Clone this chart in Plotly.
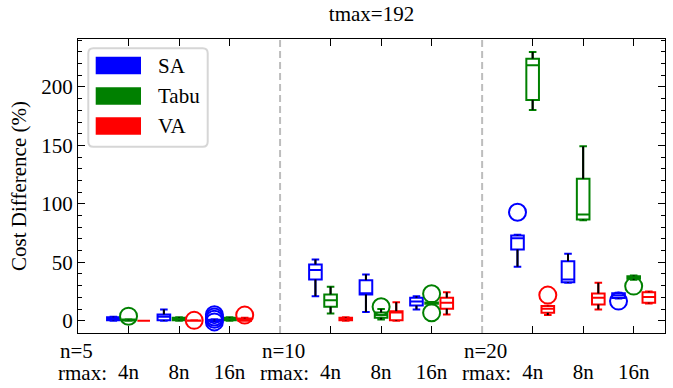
import plotly.graph_objects as go

# ---------------- data ----------------
methods = ["SA", "Tabu", "VA"]
colors = ["#0000ff", "#008000", "#ff0000"]
n_labels = ["n=5", "n=10", "n=20"]
rmax_labels = ["4n", "8n", "16n"]
title_text = "tmax=192"
y_title = "Cost Difference (%)"

# order: (n=5: 4n, 8n, 16n), (n=10: 4n, 8n, 16n), (n=20: 4n, 8n, 16n)
sa_lower = [0.0, 0.0, -0.5, 21.0, 7.4, 9.7, 46.2, 32.5, 19.0]
sa_q1 = [0.3, 0.5, 0.0, 35.3, 22.5, 13.0, 61.0, 33.0, 19.5]
sa_med = [1.5, 3.4, 0.3, 43.3, 23.5, 16.5, 70.5, 35.3, 21.5]
sa_q3 = [3.0, 5.4, 0.8, 48.1, 34.7, 19.6, 72.9, 50.9, 23.5]
sa_upper = [3.5, 9.7, 1.2, 52.4, 39.6, 21.0, 73.5, 57.3, 24.0]
sa_out = [[], [], [-1.0, 1.2, 3.2, 5.2], [], [], [], [92.8], [], [16.8]]

tabu_lower = [0.0, 0.0, 0.0, 6.2, 1.0, 14.0, 180.3, 86.0, 35.0]
tabu_q1 = [0.2, 0.3, 0.3, 12.0, 2.5, 14.5, 188.9, 86.6, 36.0]
tabu_med = [0.5, 1.0, 1.0, 17.6, 5.0, 15.0, 218.5, 90.9, 37.0]
tabu_q3 = [1.0, 2.5, 2.5, 22.5, 7.0, 15.5, 224.2, 121.4, 38.0]
tabu_upper = [1.2, 3.0, 3.0, 29.1, 10.0, 16.0, 229.9, 149.2, 38.7]
tabu_out = [[3.9], [], [], [], [12.0], [23.0, 6.8], [], [], [29.6]]

va_lower = [0.0, 0.0, 0.0, 0.0, 0.0, 5.4, 4.8, 9.7, 14.8]
va_q1 = [0.0, 0.0, 0.0, 0.3, 0.5, 10.3, 6.8, 13.9, 15.4]
va_med = [0.0, 0.0, 0.5, 1.0, 7.0, 15.4, 10.3, 19.7, 20.2]
va_q3 = [0.0, 0.2, 2.0, 2.5, 8.2, 19.7, 12.5, 23.3, 24.4]
va_upper = [0.0, 0.3, 2.5, 3.0, 15.9, 24.4, 12.8, 32.5, 25.0]
va_out = [[], [0.3], [4.8], [], [], [], [21.9], [], []]

stats = [
    (sa_lower, sa_q1, sa_med, sa_q3, sa_upper, sa_out),
    (tabu_lower, tabu_q1, tabu_med, tabu_q3, tabu_upper, tabu_out),
    (va_lower, va_q1, va_med, va_q3, va_upper, va_out),
]

# ---------------- layout helpers ----------------
FONT = "Liberation Serif, Times New Roman, serif"
FS = 21
XMAX = 11.62
offsets = [-0.3, 0.0, 0.3]
tick_pos = [4 * g + k + 1 for g in range(3) for k in range(3)]


def paper_x(x):
    return x / XMAX


fig = go.Figure()

for m, (lo, q1, md, q3, up, outs) in enumerate(stats):
    xs = [p + offsets[m] for p in tick_pos]
    fig.add_trace(go.Box(
        x=xs, q1=q1, median=md, q3=q3, lowerfence=lo, upperfence=up,
        width=0.25, whiskerwidth=0.6, fillcolor="white",
        line=dict(color=colors[m], width=2),
        boxpoints=False, showlegend=False, name=methods[m],
        hoverinfo="skip",
    ))

for m, (lo, q1, md, q3, up, outs) in enumerate(stats):
    xs = [p + offsets[m] for p in tick_pos]
    sx, sy = [], []
    for i, x in enumerate(xs):
        sx += [x, x, None, x, x, None]
        sy += [q3[i], up[i], None, lo[i], q1[i], None]
    fig.add_trace(go.Scatter(x=sx, y=sy, mode="lines",
                             line=dict(color="black", width=2),
                             showlegend=False, hoverinfo="skip"))

for m, (lo, q1, md, q3, up, outs) in enumerate(stats):
    xs = [p + offsets[m] for p in tick_pos]
    ox, oy = [], []
    for i, x in enumerate(xs):
        for v in outs[i]:
            ox.append(x)
            oy.append(v)
    fig.add_trace(go.Scatter(
        x=ox, y=oy, mode="markers",
        marker=dict(symbol="circle-open", size=17, color=colors[m],
                    line=dict(width=2, color=colors[m])),
        showlegend=False, hoverinfo="skip"))

# group separators
for g in (1, 2):
    fig.add_shape(type="line", xref="x", yref="paper", x0=4 * g, x1=4 * g,
                  y0=0, y1=1, line=dict(color="#bdbdbd", width=2, dash="7px,4px"),
                  layer="below")

# legend (drawn manually to mimic the patch style)
ax, ay = 0, 1
lx0, lx1, ly1, ly0, r = 10.3, 129.7, -9.3, -107.7, 5
path = (f"M {lx0 + r},{ly1} L {lx1 - r},{ly1} Q {lx1},{ly1} {lx1},{ly1 - r} "
        f"L {lx1},{ly0 + r} Q {lx1},{ly0} {lx1 - r},{ly0} L {lx0 + r},{ly0} "
        f"Q {lx0},{ly0} {lx0},{ly0 + r} L {lx0},{ly1 - r} Q {lx0},{ly1} {lx0 + r},{ly1} Z")
fig.add_shape(type="path", path=path, xref="paper", yref="paper",
              xsizemode="pixel", ysizemode="pixel", xanchor=ax, yanchor=ay,
              fillcolor="white", line=dict(color="#d6d6d6", width=2), layer="above")
patch_tops = [-17.7, -48.3, -78.3]
for m in range(3):
    fig.add_shape(type="rect", xref="paper", yref="paper",
                  xsizemode="pixel", ysizemode="pixel", xanchor=ax, yanchor=ay,
                  x0=17.7, x1=63, y0=patch_tops[m], y1=patch_tops[m] - 17.5,
                  fillcolor=colors[m], line=dict(width=0), layer="above")
    fig.add_annotation(x=0, y=1, xref="paper", yref="paper", text=methods[m],
                       xanchor="left", yanchor="middle", showarrow=False,
                       xshift=78, yshift=patch_tops[m] - 9,
                       font=dict(family=FONT, size=FS, color="black"))

# group / rmax labels under the axis
for g in range(3):
    fig.add_annotation(x=paper_x(4 * g - 0.40), y=-0.062, xref="paper", yref="paper",
                       text=n_labels[g], xanchor="left", yanchor="middle",
                       showarrow=False, font=dict(family=FONT, size=FS, color="black"))
    fig.add_annotation(x=paper_x(4 * g - 0.44), y=-0.135, xref="paper", yref="paper",
                       text="rmax:", xanchor="left", yanchor="middle",
                       showarrow=False, font=dict(family=FONT, size=FS, color="black"))

fig.update_layout(
    width=673, height=388,
    margin=dict(l=78, r=8, t=39, b=55),
    paper_bgcolor="white", plot_bgcolor="white",
    boxmode="overlay",
    font=dict(family=FONT, size=FS, color="black"),
    title=dict(text=title_text, x=0.5, xref="paper", xanchor="center",
               y=0.965, yanchor="middle", font=dict(family=FONT, size=FS)),
    xaxis=dict(range=[0, XMAX], tickvals=tick_pos, automargin=False,
               ticktext=rmax_labels * 3, ticks="inside", ticklen=7,
               tickcolor="black", showline=True, linecolor="black",
               linewidth=1, mirror="allticks", showgrid=False, zeroline=False,
               ticklabelstandoff=20, tickfont=dict(family=FONT, size=FS)),
    yaxis=dict(range=[-10.5, 241], tickvals=[0, 50, 100, 150, 200],
               automargin=False,
               ticks="inside", ticklen=7, tickcolor="black",
               minor=dict(ticks="inside", ticklen=4, dtick=10, tickcolor="black",
                          showgrid=False),
               showline=True, linecolor="black", linewidth=1, mirror="allticks",
               showgrid=False, zeroline=False,
               title=dict(text=y_title, standoff=8, font=dict(family=FONT, size=FS)),
               tickfont=dict(family=FONT, size=FS)),
)

fig.write_html("out.html",
               config={"displayModeBar": False},
               post_script="document.body.style.margin='0';"
                           "document.body.style.overflow='hidden';")
